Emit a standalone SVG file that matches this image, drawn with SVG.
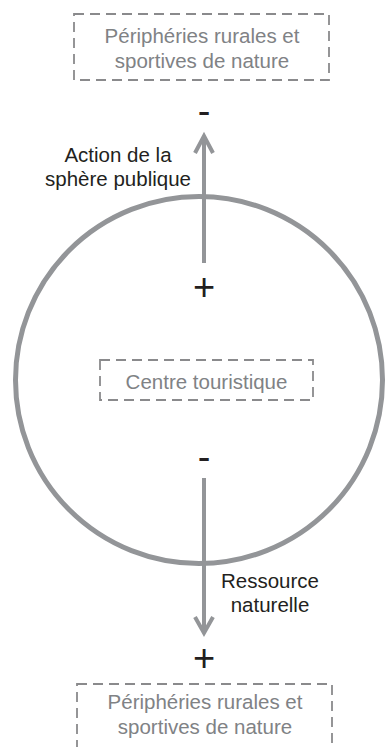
<svg xmlns="http://www.w3.org/2000/svg" width="385" height="747" viewBox="0 0 385 747">
<style>
.box{fill:none;stroke:#8a8a8c;stroke-width:1.8;stroke-dasharray:10 6}
.gt{font-family:"Liberation Sans",Arial,sans-serif;font-size:20.5px;fill:#808285;text-anchor:middle}
.bt{font-family:"Liberation Sans",Arial,sans-serif;font-size:20.5px;fill:#231f20;text-anchor:middle}
.sign{font-family:"Liberation Sans",Arial,sans-serif;font-size:38px;fill:#231f20;text-anchor:middle}
.ln{fill:none;stroke:#939598;stroke-width:4}
</style>
<rect width="385" height="747" fill="#ffffff"/>
<g id="cercle">
<circle cx="199" cy="380" r="183.5" fill="none" stroke="#939598" stroke-width="5"/>
</g>
<g id="connectors">
<g id="arrow-action">
<line class="ln" x1="204" y1="263" x2="204" y2="136"/>
<polyline class="ln" points="195,153 204,136 213,153"/>
</g>
<g id="arrow-ressource">
<line class="ln" x1="204" y1="478" x2="204" y2="633"/>
<polyline class="ln" points="195,617 204,633 213,617"/>
</g>
<text class="bt" x="118" y="162">Action de la</text>
<text class="bt" x="118" y="186">sphère publique</text>
<text class="bt" x="270" y="588">Ressource</text>
<text class="bt" x="270" y="612">naturelle</text>
<text class="sign" x="204" y="124">-</text>
<text class="sign" x="204" y="300">+</text>
<text class="sign" x="204" y="470">-</text>
<text class="sign" x="204" y="671">+</text>
</g>
<g id="peripheries-haut">
<rect class="box" x="74" y="14" width="255" height="66"/>
<text class="gt" x="202" y="43">Périphéries rurales et</text>
<text class="gt" x="202" y="68">sportives de nature</text>
</g>
<g id="centre">
<rect class="box" x="100" y="360" width="213" height="40"/>
<text class="gt" x="206.5" y="389">Centre touristique</text>
</g>
<g id="peripheries-bas">
<rect class="box" x="77" y="684" width="255" height="66"/>
<text class="gt" x="205" y="709">Périphéries rurales et</text>
<text class="gt" x="205" y="734">sportives de nature</text>
</g>
</svg>
